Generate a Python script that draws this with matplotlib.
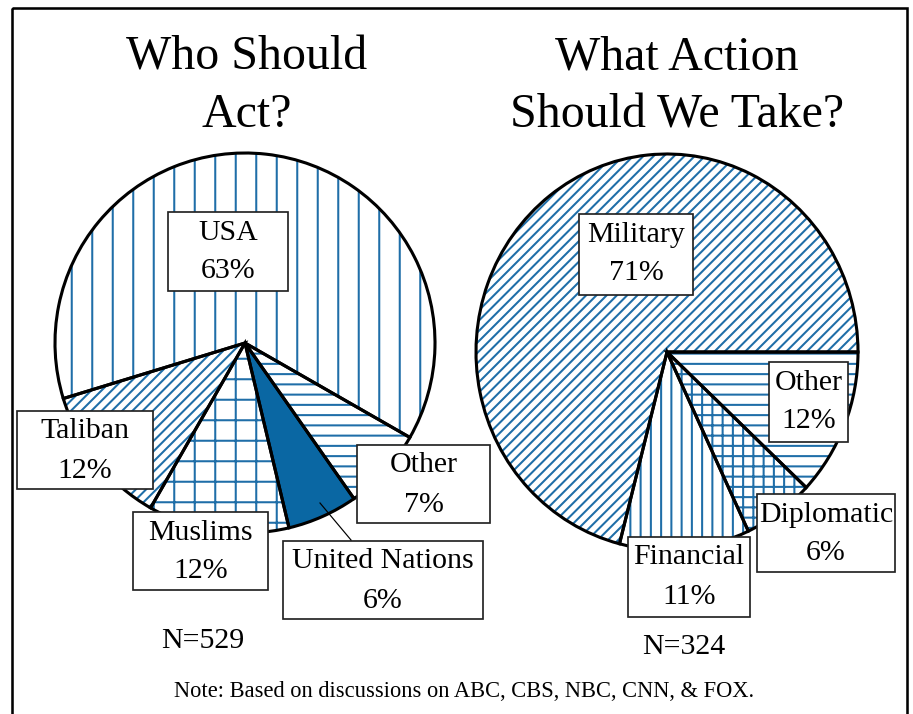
import matplotlib
matplotlib.use('Agg')
import matplotlib.pyplot as plt
from matplotlib.patches import Rectangle

# ---------------- data ----------------
left_title = ['Who Should', 'Act?']
left_labels = ['USA', 'Taliban', 'Muslims', 'United Nations', 'Other']
left_values = [63, 12, 12, 6, 7]
left_n = 529

right_title = ['What Action', 'Should We Take?']
right_labels = ['Military', 'Financial', 'Diplomatic', 'Other']
right_values = [71, 11, 6, 12]
right_n = 324

note = 'Note: Based on discussions on ABC, CBS, NBC, CNN, & FOX.'

# ---------------- style / layout ----------------
W, H, DPI = 913, 714, 123
HATCH_BLUE = '#1f6ea8'
SOLID_BLUE = '#0a67a3'
FONT = 'Liberation Serif'

plt.rcParams['hatch.linewidth'] = 1.2
plt.rcParams['font.family'] = [FONT, 'DejaVu Serif']

left_hatches = ['|', '////', '+', '', '--']
left_fills = ['white', 'white', 'white', SOLID_BLUE, 'white']
right_hatches = ['////', '||', '++', '--']
right_fills = ['white'] * 4

# pixel geometry (cx, cy, rx, ry)
left_geom = (245, 343, 190, 190)
right_geom = (667, 352, 191, 198)
left_start = -29.8
right_start = 0

left_boxes = [(168, 212, 288, 291), (17, 411, 153, 489), (133, 512, 268, 590),
              (283, 541, 483, 619), (357, 445, 490, 523)]
right_boxes = [(579, 214, 693, 295), (628, 537, 750, 617),
               (757, 494, 895, 572), (769, 362, 848, 442)]

fig = plt.figure(figsize=(W / DPI, H / DPI), dpi=DPI)
fig.patch.set_facecolor('white')


def draw_pie(geom, values, hatches, fills, start):
    cx, cy, rx, ry = geom
    ax = fig.add_axes([(cx - rx) / W, 1 - (cy + ry) / H, 2 * rx / W, 2 * ry / H])
    ax.pie(values, colors=fills, hatch=hatches, startangle=start,
           counterclock=True,
           wedgeprops=dict(edgecolor=HATCH_BLUE, linewidth=0))
    ax.pie(values, startangle=start, counterclock=True,
           wedgeprops=dict(fill=False, edgecolor='black', linewidth=1.8,
                           joinstyle='miter'))
    ax.set_xlim(-1, 1)
    ax.set_ylim(-1, 1)
    ax.set_aspect('auto')
    ax.axis('off')
    ax.set_zorder(1)
    return ax


draw_pie(left_geom, left_values, left_hatches, left_fills, left_start)
draw_pie(right_geom, right_values, right_hatches, right_fills, right_start)

ov = fig.add_axes([0, 0, 1, 1])
ov.set_xlim(0, W)
ov.set_ylim(H, 0)
ov.axis('off')
ov.set_zorder(3)

# frame
ov.add_patch(Rectangle((12, 8), 895, 740, fill=False, edgecolor='black',
                       linewidth=1.5))

# titles
TITLE_FS = 28
ov.text(247, 70, left_title[0], ha='center', va='baseline', fontsize=TITLE_FS)
ov.text(247, 127, left_title[1], ha='center', va='baseline', fontsize=TITLE_FS)
ov.text(677, 70, right_title[0], ha='center', va='baseline', fontsize=TITLE_FS)
ov.text(677, 127, right_title[1], ha='center', va='baseline', fontsize=TITLE_FS)

LABEL_FS = 17.5


def draw_labels(labels, values, boxes):
    for lab, val, (x0, y0, x1, y1) in zip(labels, values, boxes):
        ov.add_patch(Rectangle((x0, y0), x1 - x0, y1 - y0, facecolor='white',
                               edgecolor='#222222', linewidth=1.0, zorder=4))
        xc = (x0 + x1) / 2
        ov.text(xc, y0 + 27.5, lab, ha='center', va='baseline',
                fontsize=LABEL_FS, zorder=5)
        ov.text(xc, y0 + 66.5, f'{val}%', ha='center', va='baseline',
                fontsize=LABEL_FS, zorder=5)


draw_labels(left_labels, left_values, left_boxes)
draw_labels(right_labels, right_values, right_boxes)

# leader line for United Nations
ov.plot([351, 320], [540, 503], color='black', linewidth=0.7, zorder=4)

# N counts
ov.text(203, 648, f'N={left_n}', ha='center', va='baseline', fontsize=LABEL_FS)
ov.text(684, 654, f'N={right_n}', ha='center', va='baseline', fontsize=LABEL_FS)

# note
ov.text(464, 697, note, ha='center', va='baseline', fontsize=13.2)

fig.savefig('out.png', dpi=DPI, facecolor='white')
